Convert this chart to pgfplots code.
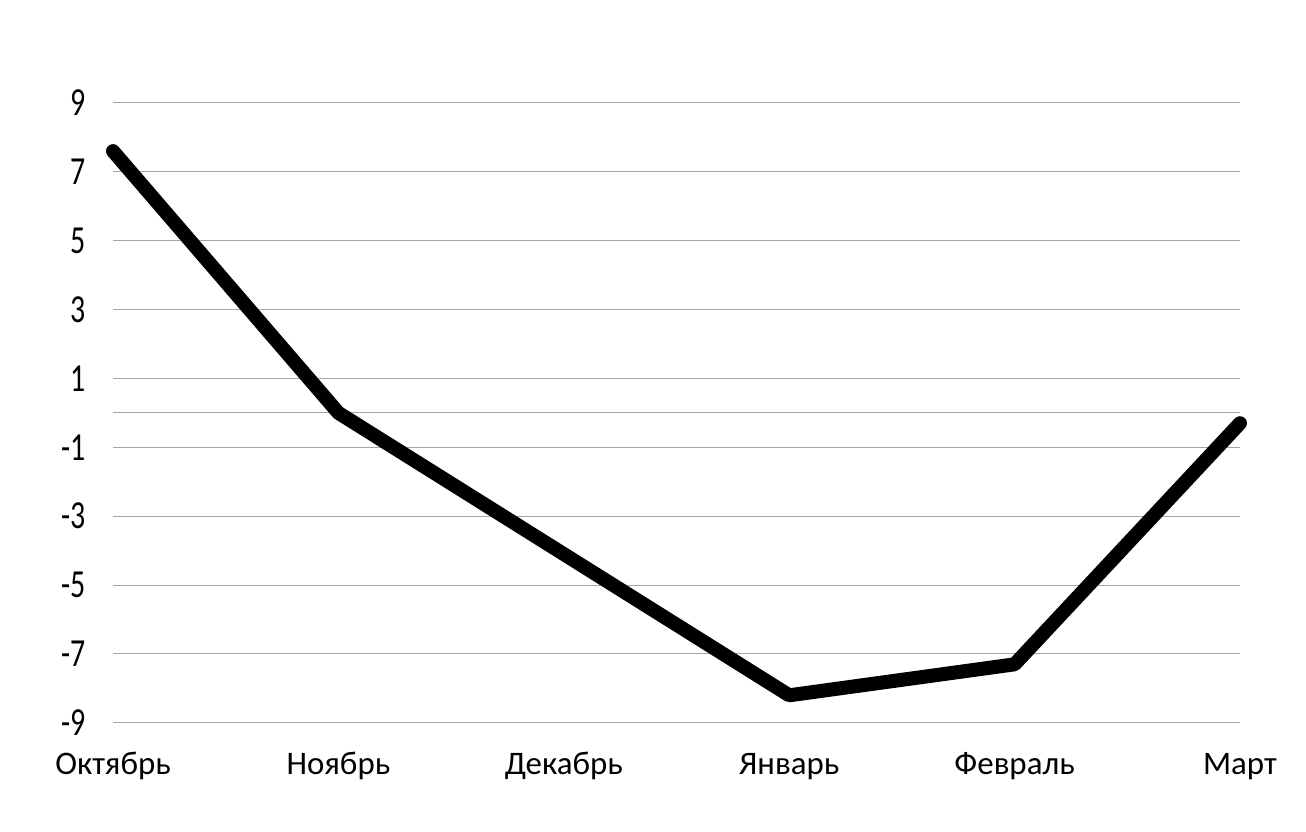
\documentclass[border=0pt]{standalone}
\usepackage{pgfplots}
\pgfplotsset{compat=1.18}
\usepackage{graphicx}
\usepackage{fontspec}
\setmainfont{Carlito}
\newcommand{\yl}[1]{\scalebox{1}[1.33]{#1}}
\begin{document}
\begin{tikzpicture}
\begin{axis}[
  scale only axis,
  width=563.5bp, height=310bp,
  xmin=0, xmax=5, ymin=-9, ymax=9,
  clip=false,
  axis line style={draw=none},
  major tick length=0pt,
  xtick={0,1,2,3,4,5},
  xticklabels={Октябрь,Ноябрь,Декабрь,Январь,Февраль,Март},
  ytick={-9,-7,-5,-3,-1,1,3,5,7,9},
  yticklabels={\yl{-9},\yl{-7},\yl{-5},\yl{-3},\yl{-1},\yl{1},\yl{3},\yl{5},\yl{7},\yl{9}},
  extra y ticks={0},
  extra y tick labels={},
  extra y tick style={grid=major},
  ymajorgrids,
  grid style={gray!70, line width=0.5bp},
  xticklabel style={font=\fontsize{16.5}{20}\selectfont, anchor=base, yshift=-26bp},
  yticklabel style={font=\fontsize{15}{18}\selectfont, anchor=east, xshift=-10bp},
]
\path (rel axis cs:-0.1003,-0.1758) rectangle (rel axis cs:1.0586,1.166);
\addplot[black, line width=7bp, line join=round, line cap=round] coordinates {
  (0,7.6) (1,0) (2,-4.1) (3,-8.2) (4,-7.3) (5,-0.3)
};
\end{axis}
\end{tikzpicture}
\end{document}
